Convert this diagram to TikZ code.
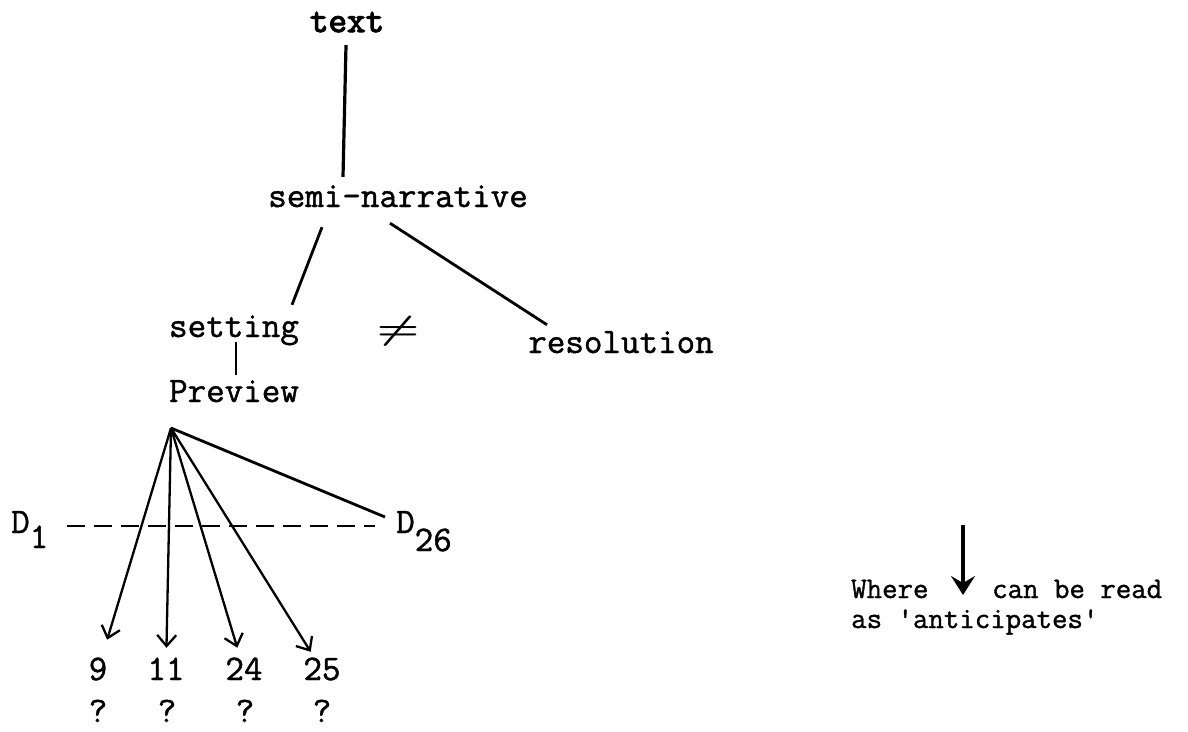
\documentclass[tikz,border=0pt]{standalone}
\usepackage{amsmath}
\usepackage{fontspec}
\usetikzlibrary{arrows.meta}
% typewriter face with a little extra weight, like a ribbon typewriter
\newfontfamily\typew{Latin Modern Mono}[
  BoldFont={Latin Modern Mono},
  BoldFeatures={FakeBold=1.2}]
\newfontfamily\typewbold{Latin Modern Mono}[FakeBold=3.2]
\begin{document}
\begin{tikzpicture}[x=1pt,y=-1pt,
  tt/.style={font=\fontsize{36}{40}\selectfont\typew\bfseries},
  word/.style={tt,inner sep=0pt,anchor=base,text height=22pt,text depth=7pt},
  num/.style={tt,inner sep=0pt,anchor=base,text height=20pt,text depth=0pt},
  dlabel/.style={tt,inner sep=0pt,anchor=base west},
  note/.style={font=\fontsize{30}{34}\selectfont\typew\bfseries,inner sep=0pt,anchor=base west},
  branch/.style={line width=2.8pt},
  ant/.style={line width=2.3pt,-{Straight Barb[length=11pt,width=19pt,line width=2.3pt]}}]
\useasboundingbox (0,0) rectangle (1188,731);

% tree
\node[word,font=\fontsize{36}{40}\selectfont\typewbold] (t) at (347,32) {text};
\node[word] (semi) at (398,207) {semi-narrative};
\node[word] (set) at (234,337) {setting};
\node[word] (res) at (621,353) {resolution};
\node[inner sep=0pt,font=\fontsize{10}{12}\selectfont] (neq) at (398,331) {\scalebox{4.8}[3.3]{$\boldsymbol{\neq}$}};
\node[word] (pre) at (234,402) {Preview};

\draw[line width=3.2pt] ([xshift=-1pt,yshift=-6pt]t.south) -- ([xshift=-55pt,yshift=8pt]semi.north);
\draw[branch] ([xshift=-76pt,yshift=-13pt]semi.south) -- ([xshift=58pt,yshift=10pt]set.north);
\draw[branch] ([xshift=-8pt,yshift=-9pt]semi.south) -- ([xshift=-74pt,yshift=6pt]res.north);
\draw[branch] ([xshift=2pt,yshift=2pt]set.south) -- ([xshift=2pt,yshift=5pt]pre.north);

% previews
\coordinate (apex) at (171,428);
\node[dlabel] (d1) at (11,533) {D\raisebox{-15pt}{1}};
\node[dlabel] (d26) at (396,533) {D\raisebox{-18pt}{26}};
\draw[line width=2.6pt,dash pattern=on 18pt off 9pt]
  ([xshift=19pt,yshift=7pt]d1.base east) -- ([xshift=-21pt,yshift=7pt]d26.base west);
\draw[branch] (apex) -- ([xshift=-11pt,yshift=16pt]d26.base west);

\node[num] (n9) at (98,680) {9};
\node[num] (n11) at (166,680) {11};
\node[num] (n24) at (244,680) {24};
\node[num] (n25) at (322,680) {25};
\node[num] (q9) at (98,722) {?};
\node[num] (q11) at (167,722) {?};
\node[num] (q24) at (245,722) {?};
\node[num] (q25) at (322,722) {?};

\draw[ant,shorten >=21pt] (apex) -- (n9);
\draw[ant,shorten >=12pt] (apex) -- (n11);
\draw[ant,shorten >=12.6pt] (apex) -- (n24);
\draw[ant,shorten >=9.4pt] (apex) -- (n25);

% key
\coordinate (keytop) at (963,525);
\coordinate (keytip) at (963,595);
\draw[line width=4.5pt,-{Stealth[length=19pt,width=24pt,inset=7pt]}] (keytop) -- (keytip);
\node[note] (where) at (851,598) {Where};
\node[note] (canbe) at (992,598) {can be read};
\node[note] (as) at (851,628) {as \textquotesingle anticipates\textquotesingle};
\end{tikzpicture}
\end{document}
